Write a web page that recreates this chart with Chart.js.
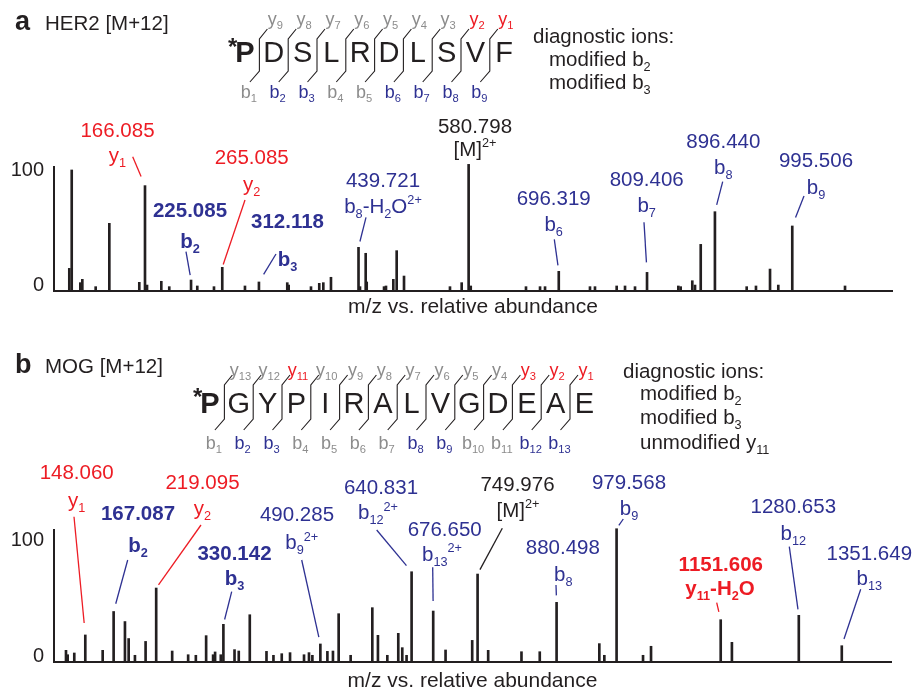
<!DOCTYPE html>
<html>
<head>
<meta charset="utf-8">
<script src="https://cdn.jsdelivr.net/npm/chart.js@4.4.1/dist/chart.umd.min.js"></script>
<style>
  body { margin: 0; background: #fff; }
  #wrap { position: relative; width: 915px; height: 691px; }
  canvas { position: absolute; left: 0; }
</style>
</head>
<body>
<div id="wrap">
  <canvas id="chartA" width="915" height="340" style="top:0;width:915px;height:340px"></canvas>
  <canvas id="chartB" width="915" height="351" style="top:340px;width:915px;height:351px"></canvas>
</div>
<script>
// ---- data: panel a (HER2) ----
const mzA = [69.1, 72.2, 83.2, 85.8, 102.9, 120.4, 158.8, 166.1, 168.7, 187.0, 197.2, 225.1, 233.1, 254.5,
  265.1, 294.2, 312.1, 348.4, 350.2, 378.8, 389.4, 394.6, 404.4, 439.7, 441.6, 448.9, 450.2, 472.4, 474.9,
  484.3, 488.6, 498.0, 556.9, 571.9, 580.8, 583.5, 654.3, 672.3, 678.7, 696.3, 736.3, 742.7, 770.5, 781.2,
  794.0, 809.4, 849.5, 852.5, 867.4, 870.9, 878.2, 896.4, 937.1, 949.0, 967.0, 977.6, 995.5, 1063.1];
const intA = [19.8, 105.9, 7.3, 10.2, 3.8, 59.2, 7.6, 92.2, 5.2, 8.5, 3.8, 9.6, 4.4, 3.8,
  20.7, 4.4, 7.9, 7.3, 5.2, 3.8, 6.7, 7.3, 12.0, 38.2, 3.8, 33.0, 7.9, 3.8, 4.4,
  10.2, 35.3, 13.1, 3.8, 7.3, 110.8, 4.4, 3.8, 3.8, 3.8, 17.2, 3.8, 3.8, 4.4, 4.4,
  3.8, 16.3, 4.4, 3.8, 9.0, 5.2, 40.8, 69.4, 3.8, 4.4, 19.2, 5.2, 56.9, 4.4];
const seqA = ['P', 'D', 'S', 'L', 'R', 'D', 'L', 'S', 'V', 'F'];
const redYA = [1, 2];
const blueBA = [2, 3, 6, 7, 8, 9];
const diagA = [['diagnostic ions:'], ['modified b', '_2'], ['modified b', '_3']];

// ---- data: panel b (MOG) ----
const mzB = [70.1, 72.9, 83.8, 102.0, 130.7, 148.8, 167.5, 173.6, 184.0, 201.6, 219.1, 245.5, 271.9, 284.6,
  301.6, 313.1, 316.4, 325.8, 330.1, 348.5, 355.5, 373.7, 401.3, 412.8, 426.5, 440.2, 463.3, 471.5, 477.1,
  490.3, 501.9, 511.1, 520.5, 540.3, 576.1, 585.4, 600.9, 619.0, 625.6, 632.7, 641.0, 676.7, 697.1, 741.1,
  750.0, 767.5, 822.5, 852.7, 880.5, 951.1, 959.4, 979.6, 1023.3, 1036.5, 1151.6, 1170.1, 1280.6, 1351.6];
const intB = [10.1, 6.3, 7.8, 23.4, 10.1, 43.7, 35.0, 20.3, 5.8, 17.8, 64.0, 9.5, 6.3, 5.8,
  22.8, 6.3, 8.7, 6.3, 32.6, 10.7, 9.5, 40.9, 9.2, 5.8, 7.2, 8.1, 6.3, 8.1, 5.8,
  15.6, 9.2, 9.5, 41.8, 5.8, 47.0, 23.1, 5.8, 24.8, 12.4, 5.8, 78.1, 44.1, 10.4, 18.7,
  76.1, 10.1, 8.9, 8.9, 51.6, 15.9, 5.8, 115.3, 5.8, 13.6, 36.6, 17.0, 40.4, 14.1];
const seqB = ['P', 'G', 'Y', 'P', 'I', 'R', 'A', 'L', 'V', 'G', 'D', 'E', 'A', 'E'];
const redYB = [1, 2, 3, 11];
const blueBB = [2, 3, 8, 9, 12, 13];
const diagB = [['diagnostic ions:'], ['modified b', '_2'], ['modified b', '_3'], ['unmodified y', '_11']];

const yTicks = [0, 100];

// ---- styles ----
const INK = '#231f20', RED = '#ed1c24', BLUE = '#2e3192', GRAY = '#8c8c8c';
const FONT = '"Liberation Sans", Arial, Helvetica, sans-serif';

// annotation layout (page pixels for text, peak found from data by m/z)
const annotA = [
  { mz: 166.1, num: '166.085', ion: ['y', '_1'], c: RED, x: 117.5, nb: 136.7, ib: 162, from: [132.7, 156.7], gap: 10 },
  { mz: 225.1, num: '225.085', ion: ['b', '_2'], c: BLUE, bold: true, x: 190, nb: 217.3, ib: 248, from: [186, 251.7], gap: 5 },
  { mz: 265.1, num: '265.085', ion: ['y', '_2'], c: RED, x: 251.7, nb: 164.3, ib: 191, from: [245, 200], gap: 3 },
  { mz: 312.1, num: '312.118', ion: ['b', '_3'], c: BLUE, bold: true, x: 287.5, nb: 228.3, ib: 266, from: [276, 254], gap: 9 },
  { mz: 439.7, num: '439.721', ion: ['b', '_8', '-H', '_2', 'O', '^2+'], c: BLUE, x: 383, nb: 186.7, ib: 212.6, from: [366, 217.3], gap: 6 },
  { mz: 580.8, num: '580.798', ion: ['[M]', '^2+'], c: INK, x: 475, nb: 132.7, ib: 156, from: null },
  { mz: 696.3, num: '696.319', ion: ['b', '_6'], c: BLUE, x: 553.7, nb: 205, ib: 231, from: [554.3, 239.3], gap: 6 },
  { mz: 809.4, num: '809.406', ion: ['b', '_7'], c: BLUE, x: 646.7, nb: 186, ib: 211.6, from: [644, 222.3], gap: 10 },
  { mz: 896.4, num: '896.440', ion: ['b', '_8'], c: BLUE, x: 723.3, nb: 148.3, ib: 174.3, from: [722.7, 181.7], gap: 7 },
  { mz: 995.5, num: '995.506', ion: ['b', '_9'], c: BLUE, x: 816, nb: 167.3, ib: 194.3, from: [804, 196], gap: 9 }
];
const annotB = [
  { mz: 102.0, num: '148.060', ion: ['y', '_1'], c: RED, x: 76.7, nb: 479.3, ib: 507, from: [74, 516.7], gap: 12 },
  { mz: 148.8, num: '167.087', ion: ['b', '_2'], c: BLUE, bold: true, x: 138, nb: 520, ib: 551.6, from: [127.7, 560], gap: 8 },
  { mz: 219.1, num: '219.095', ion: ['y', '_2'], c: RED, x: 202.5, nb: 489.3, ib: 515.4, from: [201, 525], gap: 4 },
  { mz: 330.1, num: '330.142', ion: ['b', '_3'], c: BLUE, bold: true, x: 234.5, nb: 560, ib: 585, from: [231.7, 591.7], gap: 5 },
  { mz: 490.3, num: '490.285', ion: ['b', '_9', '^2+'], c: BLUE, x: 297, ix: 301.7, nb: 520.7, ib: 549.3, from: [301.7, 560], gap: 7 },
  { mz: 641.0, num: '640.831', ion: ['b', '_12', '^2+'], c: BLUE, x: 381, ix: 378, nb: 494, ib: 519.3, from: [376.7, 530], gap: 8 },
  { mz: 676.7, num: '676.650', ion: ['b', '_13', '^2+'], c: BLUE, x: 444.7, ix: 442, nb: 536, ib: 561, from: [432.7, 567.3], gap: 10 },
  { mz: 750.0, num: '749.976', ion: ['[M]', '^2+'], c: INK, x: 517.5, ix: 518, nb: 490.7, ib: 517, from: [502.3, 528.3], gap: 5 },
  { mz: 880.5, num: '880.498', ion: ['b', '_8'], c: BLUE, x: 562.8, ix: 563.3, nb: 554, ib: 581, from: [556, 585], gap: 7 },
  { mz: 979.6, num: '979.568', ion: ['b', '_9'], c: BLUE, x: 629, nb: 489, ib: 515, from: [623.3, 519], gap: 4 },
  { mz: 1151.6, num: '1151.606', ion: ['y', '_11', '-H', '_2', 'O'], c: RED, bold: true, x: 720.8, ix: 720, nb: 570.7, ib: 595.4, from: [716.7, 602.7], gap: 8 },
  { mz: 1280.6, num: '1280.653', ion: ['b', '_12'], c: BLUE, x: 793.3, nb: 513.3, ib: 540.3, from: [789.3, 546.7], gap: 6 },
  { mz: 1351.6, num: '1351.649', ion: ['b', '_13'], c: BLUE, x: 869.3, nb: 560, ib: 585, from: [860.7, 589.3], gap: 7 }
];

const PANELS = {
  chartA: {
    oy: 0, mz: mzA, inten: intA, annot: annotA,
    letter: 'a', title: 'HER2 [M+12]', headBase: 30,
    seq: seqA, redY: redYA, blueB: blueBA, x0: 245, step: 28.8,
    pepBase: 62, vTop: 39, vBot: 71, dTop: 29, dBot: 82, yLabBase: 25, bLabBase: 98, starBase: 55, starX: 228,
    diag: diagA, diagX: [533, 549], diagBase: [43, 66, 89],
    xTitleBase: 313
  },
  chartB: {
    oy: 340, mz: mzB, inten: intB, annot: annotB,
    letter: 'b', title: 'MOG [M+12]', headBase: 373,
    seq: seqB, redY: redYB, blueB: blueBB, x0: 210, step: 28.8,
    pepBase: 413, vTop: 385, vBot: 419, dTop: 375, dBot: 430, yLabBase: 376, bLabBase: 449, starBase: 405, starX: 193,
    diag: diagB, diagX: [623, 640], diagBase: [378, 400, 424, 449],
    xTitleBase: 687
  }
};

function setFont(ctx, size, bold) {
  ctx.font = (bold ? 'bold ' : '') + size + 'px ' + FONT;
}

function drawRich(ctx, parts, x, y, size, bold, color, align) {
  const items = parts.map(p => {
    let t = p, s = size, dy = 0;
    if (p[0] === '_') { t = p.slice(1); s = size * 0.62; dy = size * 0.24; }
    else if (p[0] === '^') { t = p.slice(1); s = size * 0.62; dy = -size * 0.42; }
    setFont(ctx, s, bold);
    return { t, s, dy, w: ctx.measureText(t).width };
  });
  const total = items.reduce((a, it) => a + it.w, 0);
  let cx = align === 'center' ? x - total / 2 : x;
  ctx.fillStyle = color;
  ctx.textAlign = 'left';
  ctx.textBaseline = 'alphabetic';
  items.forEach(it => {
    setFont(ctx, it.s, bold);
    ctx.fillText(it.t, cx, y + it.dy);
    cx += it.w;
  });
}

const panelText = {
  id: 'panelText',
  afterDraw(chart) {
    const P = PANELS[chart.canvas.id];
    const ctx = chart.ctx;
    const oy = P.oy;
    const xs = chart.scales.x, ys = chart.scales.y;
    ctx.save();

    // header
    drawRich(ctx, [P.letter], 15, P.headBase - oy, 27, true, INK, 'left');
    drawRich(ctx, [P.title], 45, P.headBase - oy, 20.5, false, INK, 'left');

    // peptide sequence with fragment markers
    drawRich(ctx, ['*'], P.starX, P.starBase - oy, 24, true, INK, 'left');
    const n = P.seq.length;
    P.seq.forEach((aa, i) => {
      drawRich(ctx, [aa], P.x0 + i * P.step, P.pepBase - oy, 29, i === 0, INK, 'center');
    });
    ctx.strokeStyle = INK;
    ctx.lineWidth = 1.1;
    for (let i = 0; i < n - 1; i++) {
      const xm = P.x0 + P.step * (i + 0.5);
      ctx.beginPath();
      ctx.moveTo(xm + 8, P.dTop - oy);
      ctx.lineTo(xm, P.vTop - oy);
      ctx.lineTo(xm, P.vBot - oy);
      ctx.lineTo(xm - 9.5, P.dBot - oy);
      ctx.stroke();
      const yi = n - 1 - i, bi = i + 1;
      drawRich(ctx, ['y', '_' + yi], xm + 16, P.yLabBase - oy, 18, false, P.redY.includes(yi) ? RED : GRAY, 'center');
      drawRich(ctx, ['b', '_' + bi], xm - 10.5, P.bLabBase - oy, 18, false, P.blueB.includes(bi) ? BLUE : GRAY, 'center');
    }

    // diagnostic ions text
    P.diag.forEach((line, i) => {
      drawRich(ctx, line, i === 0 ? P.diagX[0] : P.diagX[1], P.diagBase[i] - oy, 20.5, false, INK, 'left');
    });

    // peak annotations
    P.annot.forEach(a => {
      drawRich(ctx, [a.num], a.x, a.nb - oy, 20.5, !!a.bold, a.c, 'center');
      drawRich(ctx, a.ion, a.ix || a.x, a.ib - oy, 20.5, !!a.bold, a.c, 'center');
      if (!a.from) return;
      let k = 0;
      P.mz.forEach((m, i) => { if (Math.abs(m - a.mz) < Math.abs(P.mz[k] - a.mz)) k = i; });
      const px = xs.getPixelForValue(P.mz[k]);
      const py = ys.getPixelForValue(P.inten[k]);
      const fx = a.from[0], fy = a.from[1] - oy;
      const len = Math.hypot(fx - px, fy - py);
      const ex = px + (fx - px) * a.gap / len, ey = py + (fy - py) * a.gap / len;
      ctx.strokeStyle = a.c;
      ctx.lineWidth = 1.3;
      ctx.beginPath();
      ctx.moveTo(fx, fy);
      ctx.lineTo(ex, ey);
      ctx.stroke();
    });

    // x-axis caption
    drawRich(ctx, ['m/z vs. relative abundance'], (xs.left + xs.right) / 2, P.xTitleBase - oy, 21, false, INK, 'center');
    ctx.restore();
  }
};

function makeChart(id, mz, inten, xMin, xMax, yMax, pad) {
  return new Chart(document.getElementById(id), {
    type: 'bar',
    data: {
      datasets: [{
        data: mz.map((m, i) => ({ x: m, y: inten[i] })),
        backgroundColor: INK,
        barThickness: 2,
        clip: false
      }]
    },
    options: {
      responsive: false,
      animation: false,
      layout: { padding: pad },
      plugins: { legend: { display: false }, tooltip: { enabled: false } },
      scales: {
        x: {
          type: 'linear', min: xMin, max: xMax, offset: false,
          grid: { display: false, drawTicks: false },
          ticks: { display: false },
          border: { display: true, color: INK, width: 2 },
          afterFit: s => { s.height = 0; }
        },
        y: {
          min: 0, max: yMax,
          grid: { display: false, drawTicks: false },
          border: { display: true, color: INK, width: 2 },
          afterBuildTicks: s => { s.ticks = yTicks.map(v => ({ value: v })); },
          afterFit: s => { s.width = 50; },
          ticks: { color: INK, font: { family: FONT, size: 20 }, padding: 10, labelOffset: -6 }
        }
      }
    },
    plugins: [panelText]
  });
}

makeChart('chartA', mzA, intA, 49.5, 1123.3, 108.5, { left: 4, right: 23, top: 167, bottom: 49 });
makeChart('chartB', mzB, intB, 50.3, 1432.9, 114.2, { left: 4, right: 24, top: 190, bottom: 29 });
</script>
</body>
</html>
